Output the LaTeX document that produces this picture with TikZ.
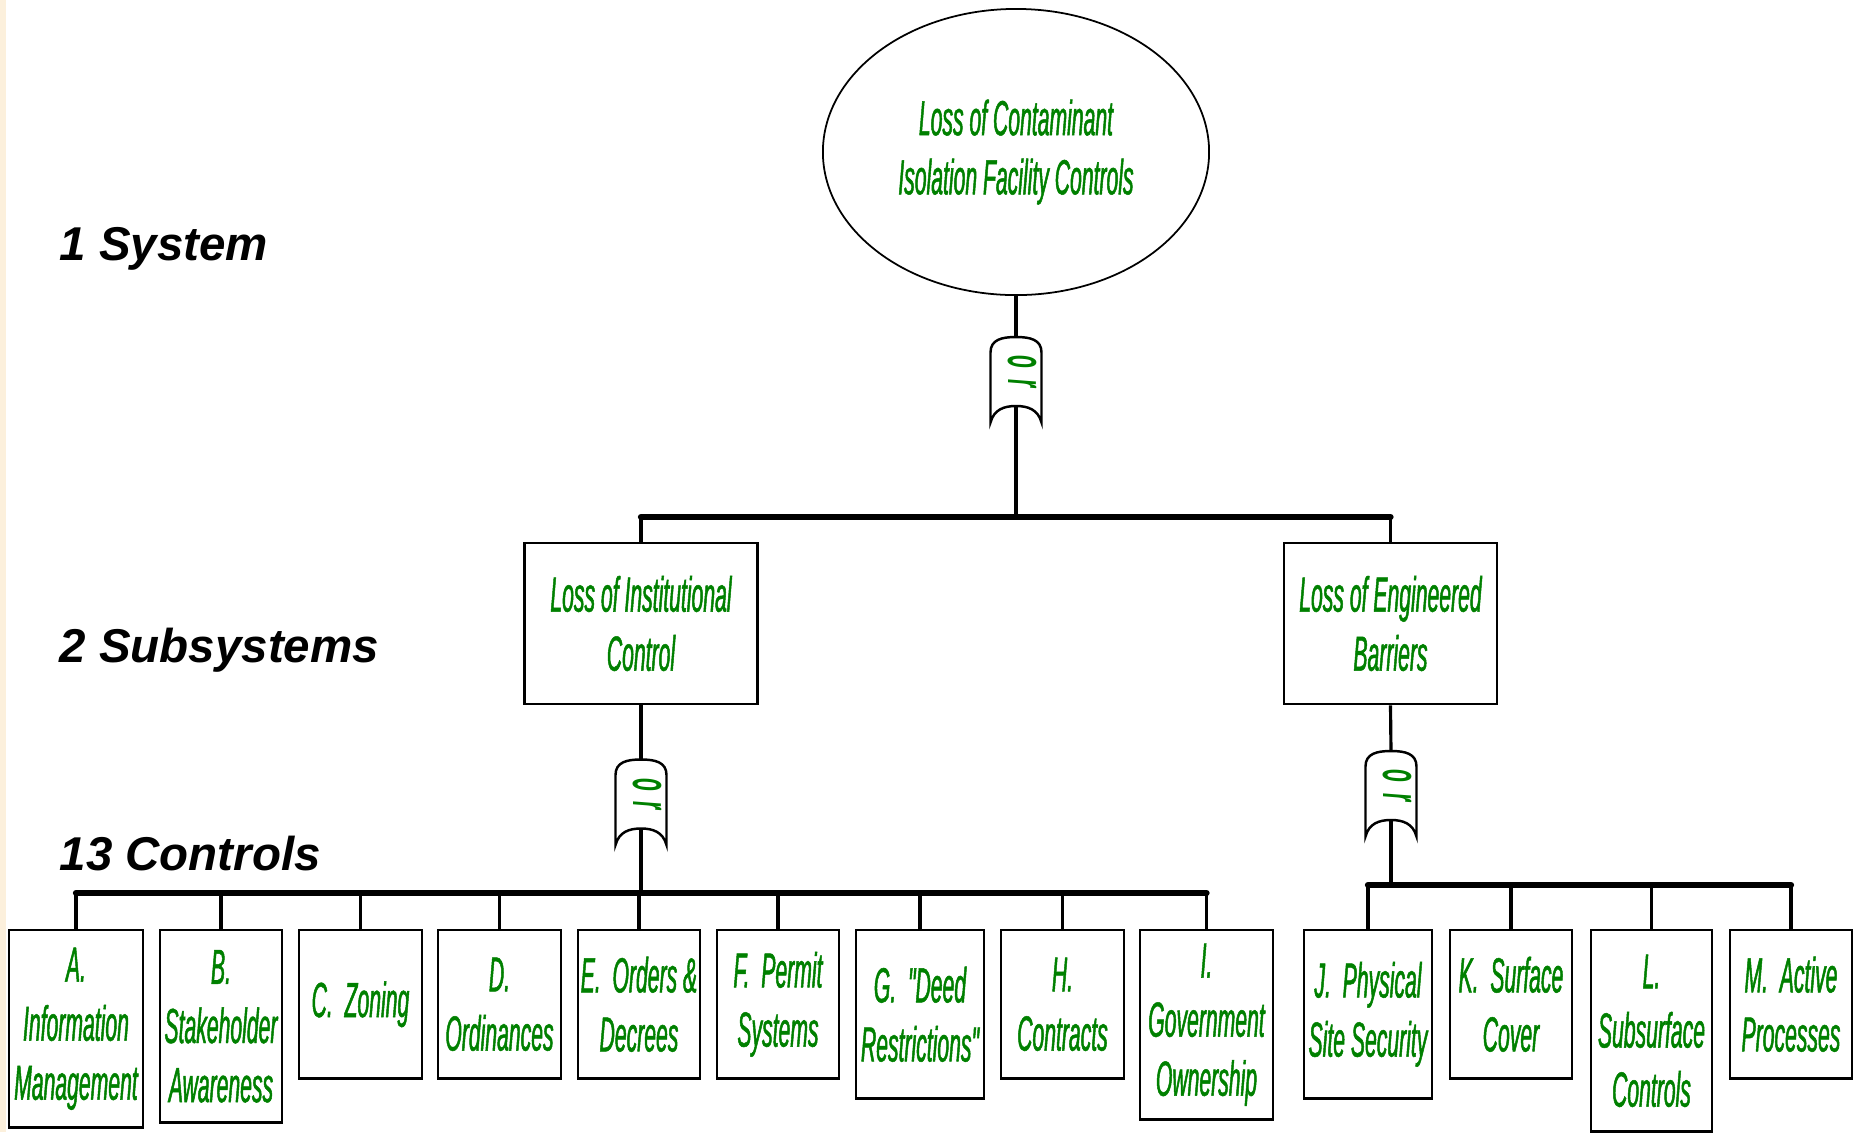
\documentclass[tikz,border=0pt]{standalone}
\usepackage{fontspec}
\setmainfont{Liberation Sans}
\newfontfamily\ctrlfont[FakeStretch=0.43, FakeBold=1]{Liberation Sans}
\newfontfamily\gatefont[FakeStretch=0.4]{Liberation Sans}
\usetikzlibrary{shapes.geometric}
\definecolor{ctrlgreen}{RGB}{0,128,0}
\definecolor{creamedge}{RGB}{252,240,220}

\tikzset{
  levellabel/.style={anchor=base west, inner sep=0pt, font=\fontsize{13.5}{16}\selectfont\bfseries\itshape},
  boxtext/.style={text=ctrlgreen, align=center, inner sep=0pt, font=\ctrlfont\itshape\fontsize{14}{16.8}\selectfont},
  topevent/.style={boxtext, ellipse, draw, line width=0.5pt, minimum width=3.86cm, minimum height=2.86cm},
  subbox/.style={boxtext, draw, line width=0.7pt, minimum height=1.61cm},
  ctrlbox/.style={boxtext, draw, line width=0.7pt, anchor=north},
  link/.style={line width=0.9pt},
  bus/.style={line width=1.8pt, line cap=round},
  gateline/.style={line width=0.7pt},
  orgate/.pic={
    \node[minimum width=0.51cm, minimum height=0.69cm, inner sep=0pt] (-g) {};
    \draw[gateline] (-25.5,-19) -- (-25.5,51) .. controls (-22,38) and (-12,34.5) .. (0,34.5)
      .. controls (12,34.5) and (22,38) .. (25.5,51) -- (25.5,-19)
      .. controls (25.5,-32) and (14,-34.5) .. (0,-34.5) .. controls (-14,-34.5) and (-25.5,-32) .. cycle;
    \node[text=ctrlgreen, rotate=-90, inner sep=0pt, font=\gatefont\bfseries\itshape\fontsize{15}{15}\selectfont] at (6,0) {o\hspace{3pt}r};
  }
}

\begin{document}
\begin{tikzpicture}[x=0.01cm, y=-0.01cm]
  \useasboundingbox (0,0) rectangle (1853,1132);
  % Edge strip
  \fill[creamedge] (0,0) rectangle (6,1132);

  % Level labels
  \node[levellabel] (lsys) at (59,260) {1 System};
  \node[levellabel] (lsub) at (59,662) {2 Subsystems};
  \node[levellabel] (lctl) at (59,870) {13 Controls};

  % Top event
  \node[topevent] (top) at (1016,152) {Loss of Contaminant\\Isolation Facility Controls};
  \pic (og) at (1016,371.5) {orgate};

  % Subsystems
  \coordinate (bust) at (1016,517);
  \node[subbox, minimum width=2.33cm] (inst) at (641,623.5) {Loss of Institutional\\Control};
  \node[subbox, minimum width=2.13cm] (engb) at (1390.5,623.5) {Loss of Engineered\\Barriers};
  \pic (oi) at (641,794) {orgate};
  \pic (oe) at (1391,785.5) {orgate};

  % Controls
  \coordinate (busi) at (641,893);
  \coordinate (buse) at (1391,885);
  \node[ctrlbox, minimum width=1.335cm, minimum height=1.97cm] (ca) at (76,929) {A.\\Information\\Management};
  \node[ctrlbox, minimum width=1.22cm, minimum height=1.92cm] (cb) at (221,929) {B.\\Stakeholder\\Awareness};
  \node[ctrlbox, minimum width=1.23cm, minimum height=1.48cm] (cc) at (360.5,929) {C.\ \ Zoning};
  \node[ctrlbox, minimum width=1.23cm, minimum height=1.48cm] (cd) at (499.5,929) {D.\\Ordinances};
  \node[ctrlbox, minimum width=1.22cm, minimum height=1.48cm] (ce) at (639,929) {E.\ \ Orders \&\\Decrees};
  \node[ctrlbox, minimum width=1.22cm, minimum height=1.48cm] (cf) at (778,929) {F.\ \ Permit\\Systems};
  \node[ctrlbox, minimum width=1.28cm, minimum height=1.68cm] (cg) at (920,929) {G.\ \ "Deed\\Restrictions"};
  \node[ctrlbox, minimum width=1.23cm, minimum height=1.48cm] (ch) at (1062.5,929) {H.\\Contracts};
  \node[ctrlbox, minimum width=1.33cm, minimum height=1.89cm] (ci) at (1206.5,929) {I.\\Government\\Ownership};
  \node[ctrlbox, minimum width=1.28cm, minimum height=1.68cm] (cj) at (1368,929) {J.\ \ Physical\\Site Security};
  \node[ctrlbox, minimum width=1.22cm, minimum height=1.48cm] (ck) at (1511,929) {K.\ \ Surface\\Cover};
  \node[ctrlbox, minimum width=1.21cm, minimum height=2.01cm] (cl) at (1651.5,929) {L.\\Subsurface\\Controls};
  \node[ctrlbox, minimum width=1.22cm, minimum height=1.48cm] (cm) at (1791,929) {M.\ \ Active\\Processes};

  % Connectors
  \draw[link] (top.south) -- (og-g.north);
  \draw[link] (og-g.south) -- (bust);
  \draw[bus] (inst.north |- bust) -- (engb.north |- bust);
  \foreach \b in {inst,engb}
    \draw[link] (\b.north |- bust) -- (\b.north);
  \draw[link] (inst.south) -- (oi-g.north);
  \draw[link] (engb.south) -- (oe-g.north);
  \draw[link] (oi-g.south) -- (busi);
  \draw[link] (oe-g.south) -- (buse);
  \draw[bus] (ca.north |- busi) -- (ci.north |- busi);
  \draw[bus] (cj.north |- buse) -- (cm.north |- buse);
  \foreach \b in {ca,cb,cc,cd,ce,cf,cg,ch,ci}
    \draw[link] (\b.north |- busi) -- (\b.north);
  \foreach \b in {cj,ck,cl,cm}
    \draw[link] (\b.north |- buse) -- (\b.north);
\end{tikzpicture}
\end{document}
